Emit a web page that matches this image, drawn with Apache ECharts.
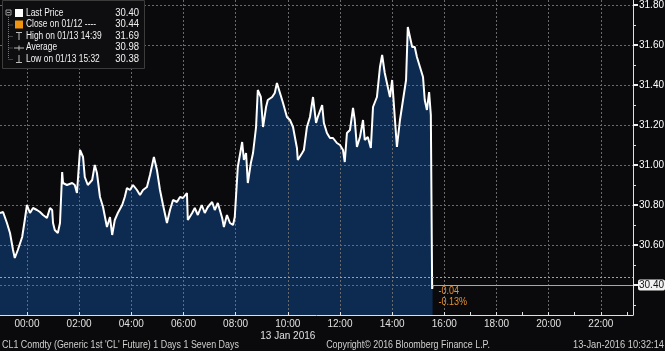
<!DOCTYPE html>
<html>
<head>
<meta charset="utf-8">
<script src="https://cdn.jsdelivr.net/npm/echarts@6/dist/echarts.min.js"></script>
<style>
  html, body { margin: 0; padding: 0; background: #0a0a0c; }
  #chart { width: 665px; height: 351px; }
</style>
</head>
<body>
<div id="chart"></div>
<script>
  // minutes from 00:00 on 13 Jan 2016 (negative = evening of 12 Jan)
  var times = [-62,-55,-46,-39,-32,-28,-21,-11,-5,0,
    7,14,23,30,37,46,53,58,60,64,
    71,76,81,83,92,104,110,115,122,129,
    133,140,150,156,161,168,175,184,191,196,
    202,209,219,225,230,237,244,253,260,267,
    276,283,292,299,306,313,322,329,336,345,
    352,359,368,370,380,386,393,402,409,416,
    426,432,439,449,453,460,467,474,478,485,
    495,499,504,508,515,520,527,531,538,543,
    550,554,564,570,575,582,589,598,605,612,
    621,623,633,637,644,651,658,665,669,679,
    683,690,697,704,713,720,727,731,736,743,
    750,754,759,766,773,777,784,791,796,805,
    812,817,823,830,835,840,846,851,858,865,
    872,876,886,892,897,904,911,915,920,925,
    929,932,933]
  var prices = [30.76,30.765,30.71,30.66,30.575,30.535,30.575,30.64,30.725,30.80,
    30.76,30.785,30.775,30.765,30.75,30.735,30.785,30.775,30.71,30.675,
    30.66,30.71,30.965,30.91,30.90,30.91,30.90,30.86,31.075,31.04,
    30.94,30.90,30.925,31.00,30.96,30.84,30.79,30.69,30.74,30.65,
    30.725,30.76,30.80,30.84,30.885,30.875,30.90,30.875,30.85,30.875,
    30.89,30.95,31.04,30.975,30.875,30.80,30.71,30.775,30.825,30.815,
    30.84,30.835,30.86,30.725,30.76,30.785,30.75,30.80,30.76,30.79,
    30.815,30.775,30.81,30.735,30.69,30.75,30.71,30.70,30.74,30.99,
    31.115,31.025,31.06,30.91,31.01,31.06,31.19,31.375,31.34,31.19,
    31.29,31.325,31.34,31.36,31.41,31.36,31.31,31.24,31.225,31.19,
    31.085,31.025,31.06,31.075,31.19,31.24,31.34,31.21,31.24,31.30,
    31.21,31.16,31.135,31.135,31.11,31.10,31.075,31.015,31.16,31.175,
    31.285,31.225,31.09,31.14,31.225,31.125,31.14,31.085,31.29,31.34,
    31.49,31.55,31.46,31.39,31.34,31.425,31.24,31.09,31.225,31.325,
    31.425,31.69,31.59,31.59,31.54,31.49,31.44,31.325,31.275,31.365,
    31.25,30.38,30.40]

  var xTicks = [0,120,240,360,480,600,720,840,960,1080,1200,1320]
  var xMinorTicks = [60,180,300,420,540,660,780,900,1020,1140,1260,1380]
  var yTicks = [30.40,30.60,30.80,31.00,31.20,31.40,31.60,31.80]
  var yLabels = [30.60,30.80,31.00,31.20,31.40,31.60,31.80]
  var yMinorTicks = [30.30,30.50,30.70,30.90,31.10,31.30,31.50,31.70]

  var legendNames = ['Last Price','Close on 01/12 ----','High on 01/13 14:39','Average','Low on 01/13 15:32']
  var legendValues = ['30.40','30.44','31.69','30.98','30.38']
  var lastPrice = 30.40
  var prevClose = 30.44
  var changeLines = ['-0.04','-0.13%']
  var dateLabel = '13 Jan 2016'
  var footerLeft = "CL1 Comdty (Generic 1st 'CL' Future) 1 Days 1 Seven Days"
  var footerMid = 'Copyright\u00a9 2016 Bloomberg Finance L.P.'
  var footerRight = '13-Jan-2016 10:32:14'

  var FONT = '"Liberation Sans", Arial, sans-serif'
  var X_MIN = -62, X_MAX = 1394
  var Y_MIN = 30.25, Y_MAX = 31.825

  var points = times.map(function (t, i) { return [t, prices[i]] })
  var lastTime = times[times.length - 1]

  var myChart = echarts.init(document.getElementById('chart'))

  // narrow text: bloomberg terminal font is condensed
  var narrowText = function (txt, x, y, color, align, sx) {
    return {
      type: 'text', x: x, y: y, scaleX: sx, z: 11,
      style: { text: txt, fill: color, font: '10px ' + FONT, align: align, verticalAlign: 'middle' }
    }
  }

  // legend box top-left
  var legendEls = [{
    type: 'rect',
    shape: { x: 2.5, y: 0.5, width: 142, height: 68 },
    style: { fill: '#0e0e10', stroke: '#3c3c3c', lineWidth: 1 },
    z: 10
  }]
  var rowY = function (i) { return 13 + i * 11.5 }
  // tree lines
  legendEls.push({ type: 'rect', shape: { x: 6, y: rowY(0) - 3, width: 5, height: 5 },
    style: { fill: 'none', stroke: '#999', lineWidth: 1 }, z: 11 })
  legendEls.push({ type: 'line', shape: { x1: 7, y1: rowY(0) - 0.5, x2: 10, y2: rowY(0) - 0.5 },
    style: { stroke: '#999', lineWidth: 1 }, z: 11 })
  legendEls.push({ type: 'line', shape: { x1: 8.5, y1: rowY(0) + 2, x2: 8.5, y2: rowY(4) },
    style: { stroke: '#777', lineWidth: 1, lineDash: [1, 1] }, z: 11 })
  for (var i = 1; i < 5; i++) {
    legendEls.push({ type: 'line', shape: { x1: 8.5, y1: rowY(i) + 0.5, x2: 13, y2: rowY(i) + 0.5 },
      style: { stroke: '#777', lineWidth: 1, lineDash: [1, 1] }, z: 11 })
  }
  // icons
  legendEls.push({ type: 'rect', shape: { x: 15, y: rowY(0) - 4, width: 8, height: 8 }, style: { fill: '#ffffff' }, z: 11 })
  legendEls.push({ type: 'rect', shape: { x: 15, y: rowY(1) - 4, width: 8, height: 8 }, style: { fill: '#f0940f' }, z: 11 })
  legendEls.push({ type: 'line', shape: { x1: 16, y1: rowY(2) - 3.5, x2: 22, y2: rowY(2) - 3.5 }, style: { stroke: '#bbb', lineWidth: 1 }, z: 11 })
  legendEls.push({ type: 'line', shape: { x1: 19, y1: rowY(2) - 4, x2: 19, y2: rowY(2) + 4 }, style: { stroke: '#bbb', lineWidth: 1 }, z: 11 })
  legendEls.push({ type: 'line', shape: { x1: 14, y1: rowY(3) + 0.5, x2: 24, y2: rowY(3) + 0.5 }, style: { stroke: '#bbb', lineWidth: 1 }, z: 11 })
  legendEls.push({ type: 'line', shape: { x1: 19, y1: rowY(3) - 2, x2: 19, y2: rowY(3) + 3 }, style: { stroke: '#bbb', lineWidth: 1 }, z: 11 })
  legendEls.push({ type: 'line', shape: { x1: 19, y1: rowY(4) - 4, x2: 19, y2: rowY(4) + 4 }, style: { stroke: '#bbb', lineWidth: 1 }, z: 11 })
  legendEls.push({ type: 'line', shape: { x1: 16, y1: rowY(4) + 3.5, x2: 22, y2: rowY(4) + 3.5 }, style: { stroke: '#bbb', lineWidth: 1 }, z: 11 })
  legendNames.forEach(function (name, i) {
    legendEls.push(narrowText(name, 26, rowY(i), '#f2f2f2', 'left', 0.84))
    legendEls.push(narrowText(legendValues[i], 139, rowY(i), '#f2f2f2', 'right', 0.95))
  })

  var footerEls = [
    narrowText(footerLeft, 2, 345, '#d0d0d0', 'left', 0.89),
    narrowText(footerMid, 408, 345, '#d0d0d0', 'center', 0.89),
    narrowText(footerRight, 664, 345, '#d0d0d0', 'right', 0.93)
  ]

  var option = {
    backgroundColor: '#0a0a0c',
    animation: false,
    textStyle: { fontFamily: FONT },
    grid: { left: 0, right: 32, top: 0, bottom: 36, outerBoundsMode: 'none', containLabel: false },
    xAxis: [
      {
        type: 'value', min: X_MIN, max: X_MAX, z: 2,
        axisLine: { show: true, onZero: false, lineStyle: { color: '#e0e0e0', width: 1 } },
        axisTick: { customValues: xTicks, inside: true, length: 3, lineStyle: { color: '#e0e0e0' } },
        axisLabel: {
          customValues: xTicks, color: '#e0e0e0', fontSize: 10, margin: 3, lineHeight: 12,
          formatter: function (v) {
            var h = Math.round(v / 60)
            var s = (h < 10 ? '0' : '') + h + ':00'
            if (v === 600) s += '\n' + dateLabel
            return s
          }
        },
        splitLine: { show: true, lineStyle: { color: '#6a6a6a', type: [2, 2], width: 1 } }
      },
      {
        type: 'value', min: X_MIN, max: X_MAX, position: 'bottom',
        axisLine: { show: false, onZero: false },
        axisTick: { customValues: xMinorTicks, inside: true, length: 3, lineStyle: { color: '#e0e0e0' } },
        axisLabel: { show: false },
        splitLine: { show: false }
      }
    ],
    yAxis: [
      {
        type: 'value', position: 'right', min: Y_MIN, max: Y_MAX, z: 2,
        axisLine: { show: true, onZero: false, lineStyle: { color: '#e0e0e0', width: 1 } },
        axisTick: { show: true, customValues: yTicks, length: 5, lineStyle: { color: '#f0f0f0', width: 2 } },
        axisLabel: {
          customValues: yLabels, color: '#ffffff', fontSize: 10, margin: 6,
          formatter: function (v) { return v.toFixed(2) }
        },
        splitLine: { show: true, lineStyle: { color: '#6a6a6a', type: [2, 2], width: 1 } }
      },
      {
        type: 'value', position: 'right', min: Y_MIN, max: Y_MAX,
        axisLine: { show: false, onZero: false },
        axisTick: { show: true, customValues: yMinorTicks, length: 3, lineStyle: { color: '#e0e0e0' } },
        axisLabel: { show: false },
        splitLine: { show: false }
      }
    ],
    series: [
      {
        name: 'fill', type: 'line', data: points, symbol: 'none', z: 1, silent: true,
        lineStyle: { width: 0 },
        areaStyle: { color: '#0d2b50', opacity: 1 }
      },
      {
        name: 'Last Price', type: 'line', data: points, symbol: 'none', z: 3,
        lineStyle: { color: '#ffffff', width: 2 },
        markLine: {
          silent: true, symbol: ['none', 'none'], animation: false,
          data: [
            { yAxis: prevClose, lineStyle: { color: '#e8912f', type: [2, 2], width: 1 }, label: { show: false } },
            [
              { coord: [lastTime, lastPrice], lineStyle: { color: '#d99a6c', type: 'solid', width: 1 },
                label: { show: true, position: 'end', distance: 5, formatter: lastPrice.toFixed(2),
                  color: '#111', backgroundColor: '#f2f2f2', borderRadius: 2, padding: [1, 1, 0, 1], fontSize: 10, fontFamily: FONT } },
              { coord: [X_MAX, lastPrice] }
            ]
          ]
        }
      }
    ],
    graphic: legendEls.concat(footerEls)
  }

  myChart.setOption(option)

  // change annotation under the last price, placed from the data point
  var p = myChart.convertToPixel({ gridIndex: 0 }, [lastTime, lastPrice])
  myChart.setOption({
    graphic: legendEls.concat(footerEls).concat([
      narrowText(changeLines[0], p[0] + 6, p[1] + 6, '#e8912f', 'left', 0.9),
      narrowText(changeLines[1], p[0] + 6, p[1] + 17, '#e8912f', 'left', 0.9)
    ])
  })
</script>
</body>
</html>
